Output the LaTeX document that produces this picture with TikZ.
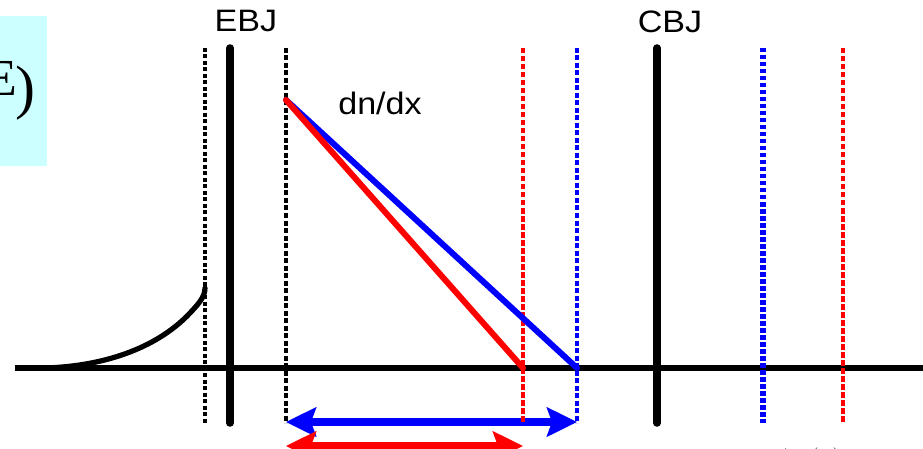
\documentclass[tikz,border=0pt]{standalone}
\usepackage{fontspec}
\setmainfont{Liberation Sans}
\newfontfamily\serifface{Liberation Serif}
\usetikzlibrary{arrows.meta}
\definecolor{boxcyan}{HTML}{CCFFFF}
\definecolor{myred}{HTML}{FF0000}
\definecolor{myblue}{HTML}{0000FF}
\begin{document}
\begin{tikzpicture}[x=1pt,y=-1pt,
  axisline/.style={line width=6.5pt},
  curveline/.style={line width=5.2pt, line cap=round},
  junction/.style={line width=7.5pt, line cap=round},
  blkdot/.style={line width=4.5pt, dash pattern=on 4pt off 2.5pt},
  blkdash/.style={line width=4pt, dash pattern=on 5pt off 2.5pt},
  reddash/.style={myred, line width=4.5pt, dash pattern=on 5.5pt off 2.5pt},
  bluedash/.style={myblue, line width=4pt, dash pattern=on 5pt off 2.5pt},
  bluedot/.style={myblue, line width=5.2pt, dash pattern=on 4.5pt off 2.5pt},
  grad/.style={line width=6pt, line cap=round},
  bigtip/.tip={Stealth[length=30pt,width=29pt,inset=5pt]},
  dblarrow/.style={line width=8pt, {bigtip}-{bigtip}},
  lbl/.style={font=\fontsize{31}{36}\selectfont, inner sep=0pt, anchor=base}
]
\clip (0,0) rectangle (923,449);
\fill[white] (0,0) rectangle (923,449);
% cyan box (cut-off formula)
\fill[boxcyan] (0,16) rectangle (47,166);
\node[anchor=base east, inner sep=0pt, font=\serifface\fontsize{52}{60}\selectfont] (eletter) at (17,96) {E};
\node[anchor=base east, inner sep=0pt, font=\serifface\fontsize{60}{70}\selectfont] (paren) at (36,108) {)};

% coordinates
\coordinate (axl) at (15,368);
\coordinate (axr) at (923,368);
\coordinate (start) at (286,100);
\coordinate (redend) at (523,368);
\coordinate (blueend) at (577,368);
\coordinate (ba-l) at (286,422);
\coordinate (ba-r) at (577,422);
\coordinate (ra-l) at (286,446);
\coordinate (ra-r) at (523,446);

% axis
\draw[axisline] (axl) -- (axr);
% minority carrier profile in emitter
\draw[curveline] (45,368) .. controls (110,366) and (160,345) .. (190,313)
  .. controls (198,304.5) and (205,297) .. (205,288);

% arrows
\draw[dblarrow, myblue] (ba-l) -- (ba-r);
\draw[dblarrow, myred] (ra-l) -- (ra-r);

% vertical lines
\draw[blkdot] (205,48) -- (205,423);
\draw[junction] (230,48) -- (230,423);
\draw[blkdash] (286,48) -- (286,423);
\draw[reddash] (523,48) -- (523,423);
\draw[bluedash] (577,48) -- (577,423);
\draw[junction] (657,48) -- (657,423);
\draw[bluedot] (763,48) -- (763,423);
\draw[reddash] (843,48) -- (843,423);

% gradients
\draw[grad, myblue] (start) -- (blueend);
\draw[grad, myred] (start) -- (redend);

% labels
\node[lbl] (ebj) at (246,32) {\scalebox{1.1}[1]{EBJ}};
\node[lbl] (cbj) at (670,33) {\scalebox{1.1}[1]{CBJ}};
\node[lbl] (dndx) at (380,115) {\scalebox{1.1}[1]{dn/dx}};
\node[anchor=base west, inner sep=0pt, font=\fontsize{32}{36}\selectfont] (bottomtxt) at (776,466) {$\Delta n(x)$};
\end{tikzpicture}
\end{document}
